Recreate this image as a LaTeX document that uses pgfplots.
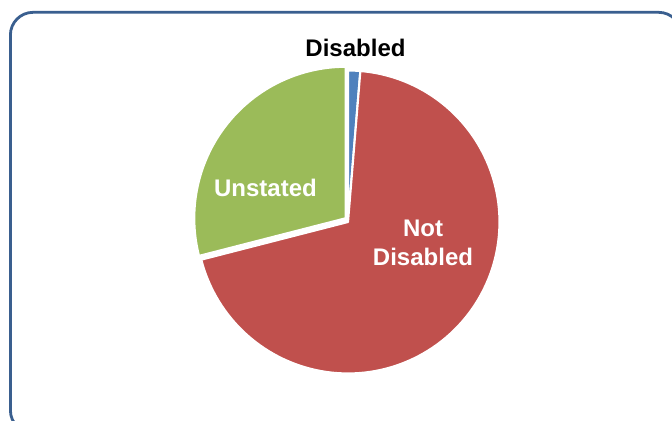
\documentclass[border=0pt]{standalone}
\usepackage{pgfplots}
\pgfplotsset{compat=1.18}
\usepackage{pgfplotstable}
\usepackage{fontspec}
\setmainfont{Liberation Sans}
\definecolor{cBlue}{HTML}{4F81BD}
\definecolor{cRed}{HTML}{C0504D}
\definecolor{cGreen}{HTML}{9BBB59}
\definecolor{cFrame}{HTML}{3A5F8F}
% shares in percent (clockwise from 12 o'clock)
\pgfplotstableread{
label value
Disabled 1.3
NotDisabled 69.7
Unstated 29.0
}\piedata
\pgfplotstablegetelem{0}{value}\of\piedata \let\vA\pgfplotsretval
\pgfplotstablegetelem{1}{value}\of\piedata \let\vB\pgfplotsretval
\pgfplotstablegetelem{2}{value}\of\piedata \let\vC\pgfplotsretval
\pgfmathsetmacro{\aA}{90}
\pgfmathsetmacro{\aB}{90-3.6*\vA}
\pgfmathsetmacro{\aC}{\aB-3.6*\vB}
\pgfmathsetmacro{\aD}{\aC-3.6*\vC}
\begin{document}
\begin{tikzpicture}
\useasboundingbox (0pt,0pt) rectangle (504pt,315.75pt);
\clip (0pt,0pt) rectangle (504pt,315.75pt);
\fill[white] (0pt,0pt) rectangle (504pt,315.75pt);
\draw[cFrame, line width=2.1pt, rounded corners=17pt] (7.8pt,-9pt) rectangle (511pt,306.5pt);
\begin{axis}[
  x=112.5pt, y=112.5pt,
  xmin=-1.3, xmax=1.3, ymin=-1.3, ymax=1.3,
  hide axis, clip=false,
  at={(261pt,149.25pt)}, anchor=origin,
  every axis plot/.append style={draw=white, line width=1.6pt, line join=round},
]
\addplot[fill=cBlue, domain=\aB:\aA, samples=20, variable=\t] ({1.01*cos(t)},{1.01*sin(t)}) -- (axis cs:0,0) -- cycle;
\addplot[fill=cRed, domain=\aC:\aB, samples=120, variable=\t] ({1.01*cos(t)},{1.01*sin(t)}) -- (axis cs:0,0) -- cycle;
\addplot[fill=cGreen, domain=\aD:\aC, samples=60, variable=\t] ({1.01*cos(t)-0.015},{1.01*sin(t)+0.025}) -- (axis cs:-0.015,0.025) -- cycle;
\node[font=\bfseries\fontsize{18}{22}\selectfont, text=black] at (axis cs:0.05,1.16) {Disabled};
\node[font=\bfseries\fontsize{18}{22}\selectfont, text=white] at (axis cs:-0.55,0.23) {Unstated};
\node[font=\bfseries\fontsize{18}{22}\selectfont, text=white, align=center] at (axis cs:0.5,-0.14) {Not\\Disabled};
\end{axis}
\end{tikzpicture}
\end{document}
